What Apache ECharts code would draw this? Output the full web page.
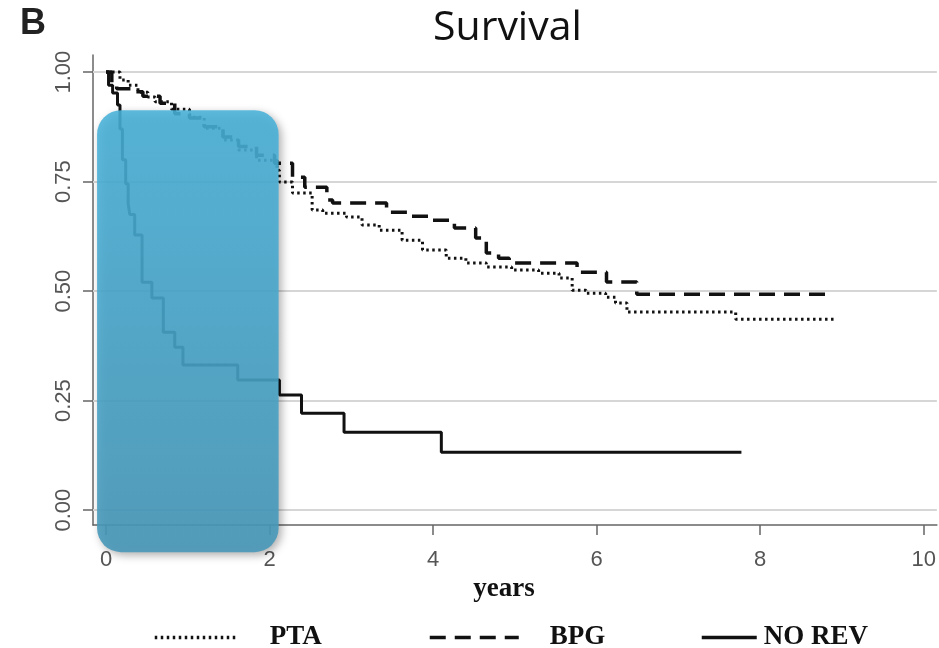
<!DOCTYPE html>
<html>
<head>
<meta charset="utf-8">
<script src="https://cdn.jsdelivr.net/npm/echarts@6/dist/echarts.min.js"></script>
<style>
html,body{margin:0;padding:0;background:#fff;}
#c{width:939px;height:648px;}
</style>
</head>
<body>
<div id="c"></div>
<script>
// ---- data ----
const xTicks = [0, 2, 4, 6, 8, 10];
const yTicks = [0, 0.25, 0.5, 0.75, 1.0];
const seriesNames = ['PTA', 'BPG', 'NO REV'];

const ptaTimes = [0, 0.17, 0.27, 0.39, 0.51, 0.60, 0.80, 1.02, 1.20, 1.43, 1.62, 1.84, 2.09, 2.12, 2.28, 2.52, 2.65, 2.94, 3.13, 3.34, 3.62, 3.87, 4.16, 4.40, 4.65, 4.96, 5.29, 5.54, 5.70, 5.87, 6.11, 6.23, 6.37, 7.70, 8.93];
const ptaSurv  = [1.0, 0.982, 0.970, 0.954, 0.943, 0.932, 0.915, 0.897, 0.872, 0.845, 0.822, 0.799, 0.776, 0.749, 0.724, 0.685, 0.678, 0.669, 0.651, 0.639, 0.616, 0.594, 0.575, 0.564, 0.555, 0.548, 0.541, 0.530, 0.502, 0.495, 0.486, 0.473, 0.452, 0.436, 0.436];

const bpgTimes = [0, 0.07, 0.13, 0.30, 0.45, 0.66, 0.84, 1.02, 1.20, 1.43, 1.62, 1.84, 2.06, 2.28, 2.43, 2.70, 2.77, 3.43, 3.74, 3.99, 4.26, 4.52, 4.65, 4.80, 4.93, 5.76, 6.12, 6.49, 8.83];
const bpgSurv  = [1.0, 0.975, 0.962, 0.955, 0.945, 0.929, 0.905, 0.895, 0.875, 0.852, 0.830, 0.810, 0.792, 0.760, 0.737, 0.708, 0.701, 0.680, 0.671, 0.662, 0.644, 0.621, 0.587, 0.575, 0.564, 0.543, 0.521, 0.493, 0.493];

const norevTimes = [0, 0.03, 0.08, 0.14, 0.17, 0.20, 0.24, 0.27, 0.29, 0.35, 0.44, 0.56, 0.70, 0.84, 0.94, 1.61, 2.12, 2.39, 2.91, 4.10, 7.77];
const norevSurv  = [1.0, 0.97, 0.952, 0.925, 0.87, 0.80, 0.745, 0.70, 0.675, 0.628, 0.52, 0.484, 0.406, 0.372, 0.331, 0.297, 0.263, 0.221, 0.178, 0.132, 0.132];

// highlight box extent (data units)
const boxYears = [-0.11, 2.11];
const boxSurv = [-0.096, 0.913];

const zip = (a, b) => a.map((v, i) => [v, b[i]]);

const chart = echarts.init(document.getElementById('c'), null, {renderer: 'canvas'});

const legendText = {fontFamily: 'Liberation Serif', fontWeight: 'bold', fontSize: 27, color: '#111'};
const legendCommon = {top: 619, itemHeight: 14, selectedMode: false, itemStyle: {opacity: 0}};

const option = {
  animation: false,
  backgroundColor: '#fff',
  title: [
    {text: 'Survival', left: 433, top: 8, padding: 0,
     textStyle: {fontFamily: 'Open Sans', fontWeight: 'normal', fontSize: 41, color: '#111'}},
    {text: 'B', left: 20, top: 6, padding: 0,
     textStyle: {fontFamily: 'Liberation Sans', fontWeight: 'bold', fontSize: 36, color: '#222'}}
  ],
  grid: {left: 93, right: 0, top: 55, bottom: 123, containLabel: false},
  xAxis: {
    type: 'value', min: -0.16, max: 10.16,
    axisLine: {show: true, onZero: false, lineStyle: {color: '#666', width: 1.5}},
    axisTick: {show: true, customValues: xTicks, length: 10, lineStyle: {color: '#666', width: 1.5}},
    axisLabel: {customValues: xTicks, fontFamily: 'Liberation Sans', fontSize: 22, color: '#555', margin: 24},
    splitLine: {show: false},
    name: 'years', nameLocation: 'middle', nameGap: 50,
    nameTextStyle: {fontFamily: 'Liberation Serif', fontWeight: 'bold', fontSize: 27, color: '#111', padding: [0, 22, 0, 0]}
  },
  yAxis: {
    type: 'value', min: -0.034, max: 1.039,
    axisLine: {show: true, onZero: false, lineStyle: {color: '#666', width: 1.5}},
    axisTick: {show: true, customValues: yTicks, length: 10, lineStyle: {color: '#666', width: 1.5}},
    axisLabel: {customValues: yTicks, rotate: 90, fontFamily: 'Liberation Sans', fontSize: 22, color: '#555', margin: 18,
      formatter: v => v.toFixed(2)},
    splitLine: {show: false}
  },
  legend: [
    Object.assign({data: ['PTA'], left: 148, itemWidth: 84, lineStyle: {width: 3.5},
     textStyle: Object.assign({padding: [0, 0, 0, 26]}, legendText)}, legendCommon),
    Object.assign({data: ['BPG'], left: 423, itemWidth: 89, lineStyle: {width: 3.5},
     textStyle: Object.assign({padding: [0, 0, 0, 26]}, legendText)}, legendCommon),
    Object.assign({data: ['NO REV'], left: 695, itemWidth: 55, lineStyle: {width: 3.5},
     textStyle: Object.assign({padding: [0, 0, 0, 2]}, legendText)}, legendCommon)
  ],
  series: [
    {
      name: 'grid', type: 'line', data: [], silent: true, z: 1,
      markLine: {
        silent: true, symbol: 'none', z: 1,
        label: {show: false},
        lineStyle: {color: '#d6d6d6', width: 2, type: 'solid'},
        data: yTicks.map(v => ({yAxis: v}))
      }
    },
    {
      name: 'PTA', type: 'line', step: 'end', symbol: 'none', z: 3,
      lineStyle: {color: '#111', width: 3, type: [2.5, 3.5], cap: 'butt'},
      itemStyle: {color: '#111'},
      data: zip(ptaTimes, ptaSurv)
    },
    {
      name: 'BPG', type: 'line', step: 'end', symbol: 'none', z: 3,
      lineStyle: {color: '#111', width: 3.5, type: [16, 9]},
      itemStyle: {color: '#111'},
      data: zip(bpgTimes, bpgSurv)
    },
    {
      name: 'NO REV', type: 'line', step: 'end', symbol: 'none', z: 3,
      lineStyle: {color: '#111', width: 3, type: 'solid'},
      itemStyle: {color: '#111'},
      data: zip(norevTimes, norevSurv)
    }
  ]
};
chart.setOption(option);

// highlight box positioned from data coordinates
const pA = chart.convertToPixel({gridIndex: 0}, [boxYears[0], boxSurv[1]]);
const pB = chart.convertToPixel({gridIndex: 0}, [boxYears[1], boxSurv[0]]);
chart.setOption({
  graphic: [{
    type: 'rect', z: 100, silent: true,
    shape: {x: pA[0], y: pA[1], width: pB[0] - pA[0], height: pB[1] - pA[1], r: 24},
    style: {
      fill: new echarts.graphic.LinearGradient(0, 0, 0, 1, [
        {offset: 0, color: 'rgba(72,178,218,0.88)'},
        {offset: 1, color: 'rgba(72,152,185,0.9)'}
      ]),
      shadowBlur: 8, shadowOffsetX: 3, shadowOffsetY: 3, shadowColor: 'rgba(0,0,0,0.35)'
    }
  }]
});
</script>
</body>
</html>
